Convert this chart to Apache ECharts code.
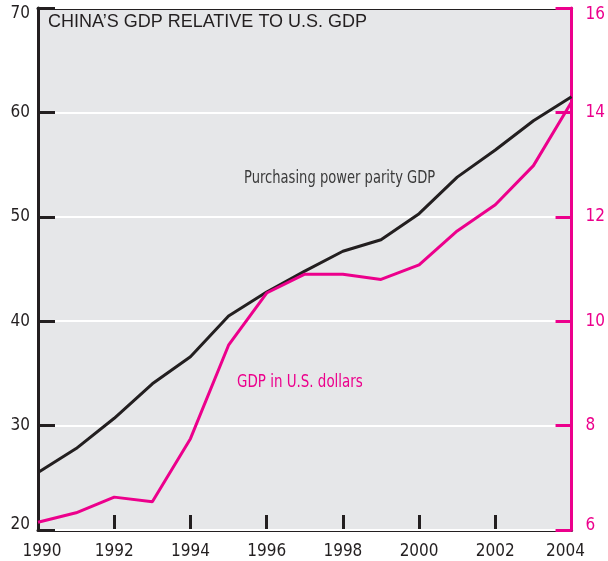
<!DOCTYPE html>
<html>
<head>
<meta charset="utf-8">
<script src="https://cdn.jsdelivr.net/npm/echarts@6/dist/echarts.min.js"></script>
<style>
  html, body { margin: 0; padding: 0; background: #ffffff; }
  #chart { width: 608px; height: 561px; }
</style>
</head>
<body>
<div id="chart"></div>
<script>
// China's GDP as a percentage of U.S. GDP, 1990-2004
const years = [1990, 1991, 1992, 1993, 1994, 1995, 1996, 1997, 1998, 1999, 2000, 2001, 2002, 2003, 2004];
// Purchasing power parity basis (left scale)
const pppGdp = [25.5, 27.8, 30.7, 34.0, 36.6, 40.5, 42.8, 44.8, 46.7, 47.8, 50.3, 53.8, 56.4, 59.2, 61.5];
// Market exchange rate basis, in U.S. dollars (right scale)
const usdGdp = [6.15, 6.33, 6.63, 6.54, 7.75, 9.54, 10.54, 10.9, 10.9, 10.8, 11.08, 11.73, 12.23, 12.98, 14.2];

const titleText = 'CHINA\u2019S GDP RELATIVE TO U.S. GDP';
const pppLabel = 'Purchasing power parity GDP';
const usdLabel = 'GDP in U.S. dollars';

const BLACK = '#231f20';
const MAGENTA = '#ec008c';
const PANEL = '#e6e7e9';
const NARROW = '"Liberation Sans Narrow", "DejaVu Sans Condensed", "Liberation Sans", sans-serif';

const chart = echarts.init(document.getElementById('chart'), null, { renderer: 'canvas' });

// Tick labels; the first and last are nudged inward along the axis
function endLabels(min, max, shift, color) {
  return {
    fontFamily: NARROW,
    fontSize: 17,
    color: color,
    formatter: function (v) {
      if (v === min) return '{lo|' + v + '}';
      if (v === max) return '{hi|' + v + '}';
      return String(v);
    },
    rich: {
      lo: { fontFamily: NARROW, fontSize: 17, color: color, padding: shift.lo },
      hi: { fontFamily: NARROW, fontSize: 17, color: color, padding: shift.hi }
    }
  };
}

const option = {
  animation: false,
  backgroundColor: '#ffffff',
  grid: {
    left: 38, right: 32, top: 8, bottom: 31,
    show: true, backgroundColor: PANEL, borderWidth: 0
  },
  xAxis: [
    {
      type: 'value', min: 1990, max: 2004, interval: 2,
      position: 'bottom',
      axisLine: { show: true, lineStyle: { color: BLACK, width: 3 } },
      axisTick: { show: true, inside: true, length: 15, lineStyle: { color: BLACK, width: 3 } },
      splitLine: { show: false },
      axisLabel: Object.assign(endLabels(1990, 2004, { lo: [0, 0, 0, 8], hi: [0, 12, 0, 0] }, BLACK), { margin: 13 })
    },
    {
      type: 'value', min: 1990, max: 2004, interval: 2,
      position: 'top',
      axisLine: { show: true, lineStyle: { color: BLACK, width: 3 } },
      axisTick: { show: false },
      axisLabel: { show: false },
      splitLine: { show: false }
    }
  ],
  yAxis: [
    {
      type: 'value', min: 20, max: 70, interval: 10,
      position: 'left',
      axisLine: { show: true, lineStyle: { color: BLACK, width: 3 } },
      axisTick: { show: true, inside: true, length: 17, lineStyle: { color: BLACK, width: 3 } },
      splitLine: { show: true, lineStyle: { color: '#ffffff', width: 2 } },
      axisLabel: Object.assign(endLabels(20, 70, { lo: [0, 0, 10, 0], hi: [12, 0, 0, 0] }, BLACK), { margin: 8 }),
      z: 3
    },
    {
      type: 'value', min: 6, max: 16, interval: 2,
      position: 'right',
      axisLine: { show: true, lineStyle: { color: MAGENTA, width: 3 } },
      axisTick: { show: true, inside: true, length: 16, lineStyle: { color: MAGENTA, width: 3 } },
      splitLine: { show: false },
      axisLabel: Object.assign(endLabels(6, 16, { lo: [0, 0, 8, 0], hi: [14, 0, 0, 0] }, MAGENTA), { margin: 14 }),
      z: 3
    }
  ],
  series: [
    {
      name: pppLabel,
      type: 'line',
      xAxisIndex: 0, yAxisIndex: 0,
      data: years.map((y, i) => [y, pppGdp[i]]),
      symbol: 'none',
      lineStyle: { color: BLACK, width: 3 },
      z: 4
    },
    {
      name: usdLabel,
      type: 'line',
      xAxisIndex: 0, yAxisIndex: 1,
      data: years.map((y, i) => [y, usdGdp[i]]),
      symbol: 'none',
      lineStyle: { color: MAGENTA, width: 3 },
      z: 5
    }
  ],
  graphic: [
    {
      type: 'text', left: 48, top: 13, z: 10,
      style: { text: titleText, fill: BLACK, font: '18px "Liberation Sans", Arial, sans-serif' }
    },
    {
      type: 'text', x: 244, y: 169, scaleX: 0.81, z: 10,
      style: { text: pppLabel, fill: '#3a3a3a', font: '18px ' + NARROW }
    },
    {
      type: 'text', x: 237, y: 373, scaleX: 0.83, z: 10,
      style: { text: usdLabel, fill: MAGENTA, font: '18px ' + NARROW }
    }
  ]
};

chart.setOption(option);
</script>
</body>
</html>
